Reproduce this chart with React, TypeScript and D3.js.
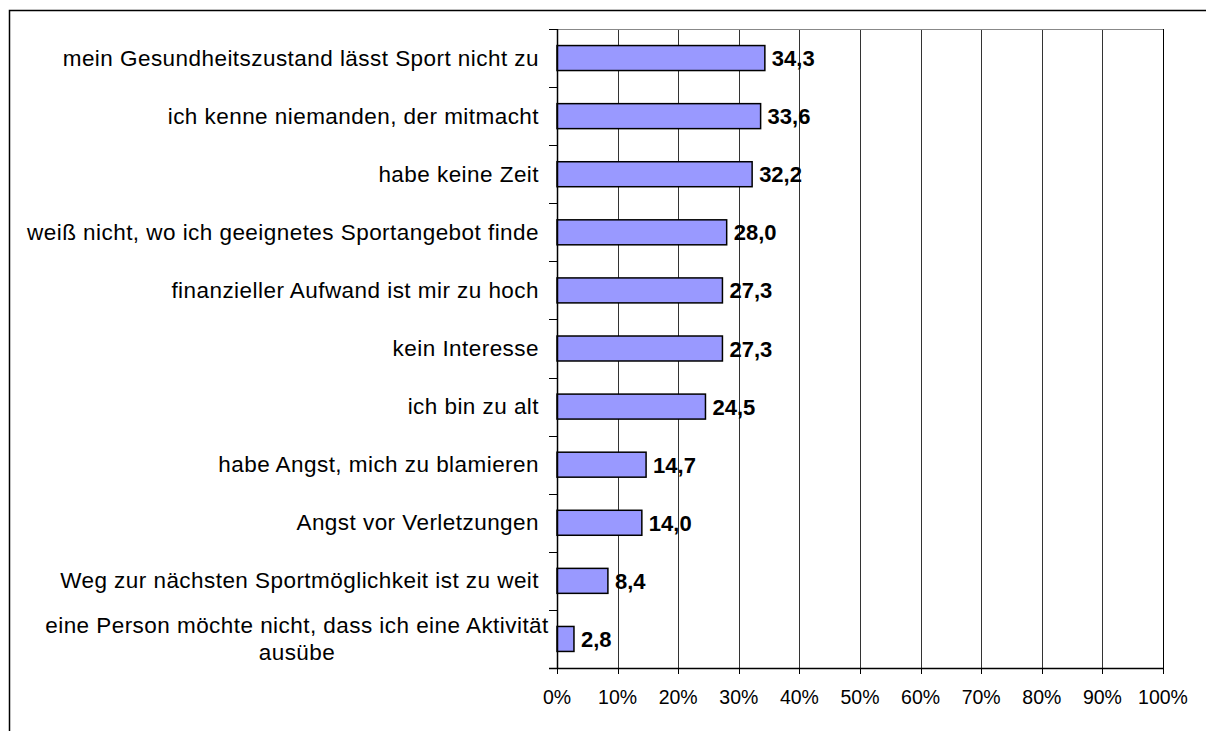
import React, { useEffect, useRef } from "react";
import * as d3 from "d3";

const categories: string[][] = [
  ["mein Gesundheitszustand lässt Sport nicht zu"],
  ["ich kenne niemanden, der mitmacht"],
  ["habe keine Zeit"],
  ["weiß nicht, wo ich geeignetes Sportangebot finde"],
  ["finanzieller Aufwand ist mir zu hoch"],
  ["kein Interesse"],
  ["ich bin zu alt"],
  ["habe Angst, mich zu blamieren"],
  ["Angst vor Verletzungen"],
  ["Weg zur nächsten Sportmöglichkeit ist zu weit"],
  ["eine Person möchte nicht, dass ich eine Aktivität", "ausübe"],
];
const values: number[] = [34.3, 33.6, 32.2, 28.0, 27.3, 27.3, 24.5, 14.7, 14.0, 8.4, 2.8];
const valueLabels: string[] = ["34,3", "33,6", "32,2", "28,0", "27,3", "27,3", "24,5", "14,7", "14,0", "8,4", "2,8"];
const xTicks: number[] = [0, 10, 20, 30, 40, 50, 60, 70, 80, 90, 100];

const W = 1206;
const H = 731;
const M = { left: 557, right: 1163, top: 29, bottom: 668 };
const FONT = "'Liberation Sans', Arial, sans-serif";

export default function App() {
  const ref = useRef<SVGSVGElement>(null);

  useEffect(() => {
    document.body.style.margin = "0";
    const svg = d3.select(ref.current);
    svg.selectAll("*").remove();

    const keys = categories.map((c) => c.join(" "));
    const x = d3.scaleLinear().domain([0, 100]).range([M.left, M.right]);
    const y = d3.scaleBand<string>().domain(keys).range([M.top, M.bottom]).padding(0);
    const step = y.step();
    const barH = step * 0.43;

    svg.append("rect").attr("width", W).attr("height", H).attr("fill", "#fff");
    // outer frame
    svg
      .append("rect")
      .attr("x", 9.5)
      .attr("y", 10.5)
      .attr("width", 1400)
      .attr("height", 900)
      .attr("fill", "none")
      .attr("stroke", "#000")
      .attr("stroke-width", 1.5);

    // gridlines
    svg
      .append("g")
      .selectAll("line")
      .data(xTicks.filter((t) => t > 0))
      .join("line")
      .attr("x1", (d) => Math.round(x(d)) + 0.5)
      .attr("x2", (d) => Math.round(x(d)) + 0.5)
      .attr("y1", M.top)
      .attr("y2", M.bottom)
      .attr("stroke", (d) => (d === 100 ? "#000" : "#333"))
      .attr("stroke-width", 1);
    // plot top border
    svg
      .append("line")
      .attr("x1", M.left)
      .attr("x2", M.right)
      .attr("y1", M.top + 0.5)
      .attr("y2", M.top + 0.5)
      .attr("stroke", "#888");

    // bars
    svg
      .append("g")
      .selectAll("rect")
      .data(values)
      .join("rect")
      .attr("x", x(0))
      .attr("y", (d, i) => (y(keys[i]) as number) + (step - barH) / 2)
      .attr("width", (d) => x(d) - x(0))
      .attr("height", barH)
      .attr("fill", "#9999FF")
      .attr("stroke", "#000")
      .attr("stroke-width", 1.5);

    // value labels
    svg
      .append("g")
      .selectAll("text")
      .data(values)
      .join("text")
      .attr("x", (d) => x(d) + 7)
      .attr("y", (d, i) => (y(keys[i]) as number) + step / 2 + 8)
      .attr("font-family", FONT)
      .attr("font-size", 22)
      .attr("font-weight", "bold")
      .attr("fill", "#000")
      .text((d, i) => valueLabels[i]);

    // y axis
    svg
      .append("line")
      .attr("x1", M.left + 0.5)
      .attr("x2", M.left + 0.5)
      .attr("y1", M.top)
      .attr("y2", M.bottom)
      .attr("stroke", "#000")
      .attr("stroke-width", 1.5);
    const yTickPos = keys.map((k) => y(k) as number).concat([M.bottom]);
    svg
      .append("g")
      .selectAll("line")
      .data(yTickPos)
      .join("line")
      .attr("x1", M.left - 8)
      .attr("x2", M.left)
      .attr("y1", (d) => Math.round(d) + 0.5)
      .attr("y2", (d) => Math.round(d) + 0.5)
      .attr("stroke", "#000");

    // category labels
    const labG = svg
      .append("g")
      .attr("font-family", FONT)
      .attr("font-size", 22.5)
      .attr("letter-spacing", 0.45)
      .attr("fill", "#000");
    categories.forEach((lines, i) => {
      const cy = (y(keys[i]) as number) + step / 2;
      if (lines.length === 1) {
        labG
          .append("text")
          .attr("x", 539)
          .attr("y", cy + 7.5)
          .attr("text-anchor", "end")
          .text(lines[0]);
      } else {
        const t = labG.append("text").attr("text-anchor", "middle");
        lines.forEach((ln, j) => {
          t.append("tspan")
            .attr("x", 297)
            .attr("y", cy + 7.5 + (j - (lines.length - 1) / 2) * 27)
            .text(ln);
        });
      }
    });

    // x axis
    svg
      .append("line")
      .attr("x1", M.left - 8)
      .attr("x2", M.right)
      .attr("y1", M.bottom + 0.5)
      .attr("y2", M.bottom + 0.5)
      .attr("stroke", "#000")
      .attr("stroke-width", 1.5);
    svg
      .append("g")
      .selectAll("line")
      .data(xTicks)
      .join("line")
      .attr("x1", (d) => Math.round(x(d)) + 0.5)
      .attr("x2", (d) => Math.round(x(d)) + 0.5)
      .attr("y1", M.bottom)
      .attr("y2", M.bottom + 6)
      .attr("stroke", "#000");
    svg
      .append("g")
      .selectAll("text")
      .data(xTicks)
      .join("text")
      .attr("x", (d) => x(d))
      .attr("y", 704)
      .attr("text-anchor", "middle")
      .attr("font-family", FONT)
      .attr("font-size", 19.5)
      .attr("fill", "#000")
      .text((d) => `${d}%`);
  }, []);

  return (
    <svg
      ref={ref}
      width={W}
      height={H}
      style={{ position: "absolute", left: 0, top: 0, display: "block" }}
    />
  );
}
